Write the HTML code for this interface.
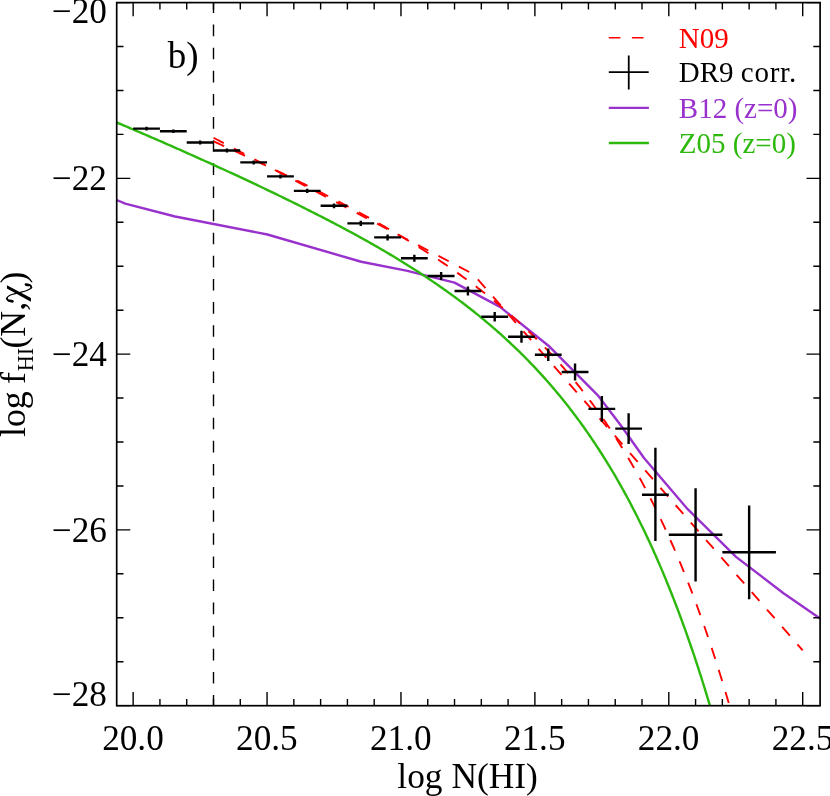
<!DOCTYPE html>
<html><head><meta charset="utf-8"><title>f_HI</title>
<style>
html,body{margin:0;padding:0;background:#fff;}
body{width:830px;height:796px;position:relative;overflow:hidden;font-family:"Liberation Serif",serif;}
</style></head><body>
<svg width="830" height="796" viewBox="0 0 830 796" style="position:absolute;left:0;top:0;will-change:transform">
<defs><clipPath id="c"><rect x="116.70" y="2.60" width="703.40" height="703.10"/></clipPath></defs>
<g clip-path="url(#c)" fill="none">
<path d="M213.50,1.5 V705.70" stroke="#000" stroke-width="1.4" stroke-dasharray="11.6 11.52"/>
<path d="M116.70,200.00 L125.20,203.70 L175.10,216.50 L267.40,234.50 L361.20,261.75 L406.30,270.60 L454.50,282.60 L500.00,306.90 L549.70,346.80 L597.60,395.10 L621.10,425.70 L644.00,458.00 L687.70,509.20 L736.00,556.90 L783.50,593.20 L820.10,618.50" stroke="#9932cc" stroke-width="2.4" stroke-linejoin="round"/>
<path d="M106.37,118.07 L107.97,118.75 L109.58,119.43 L111.19,120.11 L112.80,120.80 L114.40,121.48 L116.01,122.16 L117.62,122.84 L119.22,123.53 L120.83,124.21 L122.44,124.89 L124.04,125.58 L125.65,126.26 L127.26,126.95 L128.86,127.63 L130.47,128.32 L132.08,129.01 L133.69,129.69 L135.29,130.38 L136.90,131.07 L138.51,131.76 L140.11,132.45 L141.72,133.14 L143.33,133.82 L144.93,134.52 L146.54,135.21 L148.15,135.90 L149.75,136.59 L151.36,137.28 L152.97,137.98 L154.58,138.67 L156.18,139.36 L157.79,140.06 L159.40,140.75 L161.00,141.45 L162.61,142.16 L164.22,142.87 L165.82,143.57 L167.43,144.28 L169.04,144.99 L170.64,145.70 L172.25,146.41 L173.86,147.12 L175.47,147.83 L177.07,148.54 L178.68,149.25 L180.29,149.97 L181.89,150.68 L183.50,151.40 L185.11,152.11 L186.71,152.83 L188.32,153.54 L189.93,154.26 L191.53,154.98 L193.14,155.70 L194.75,156.42 L196.36,157.14 L197.96,157.86 L199.57,158.58 L201.18,159.30 L202.78,160.03 L204.39,160.75 L206.00,161.48 L207.60,162.20 L209.21,162.93 L210.82,163.66 L212.42,164.39 L214.03,165.12 L215.64,165.85 L217.25,166.58 L218.85,167.31 L220.46,168.04 L222.07,168.78 L223.67,169.51 L225.28,170.25 L226.89,170.99 L228.49,171.73 L230.10,172.47 L231.71,173.21 L233.31,173.95 L234.92,174.69 L236.53,175.43 L238.14,176.18 L239.74,176.93 L241.35,177.67 L242.96,178.42 L244.56,179.17 L246.17,179.92 L247.78,180.67 L249.38,181.43 L250.99,182.18 L252.60,182.94 L254.20,183.69 L255.81,184.45 L257.42,185.21 L259.03,185.97 L260.63,186.74 L262.24,187.50 L263.85,188.26 L265.45,189.03 L267.06,189.80 L268.67,190.57 L270.27,191.34 L271.88,192.11 L273.49,192.89 L275.09,193.66 L276.70,194.44 L278.31,195.22 L279.92,196.00 L281.52,196.78 L283.13,197.56 L284.74,198.35 L286.34,199.13 L287.95,199.92 L289.56,200.71 L291.16,201.50 L292.77,202.30 L294.38,203.09 L295.98,203.89 L297.59,204.69 L299.20,205.49 L300.81,206.29 L302.41,207.10 L304.02,207.91 L305.63,208.72 L307.23,209.53 L308.84,210.34 L310.45,211.15 L312.05,211.96 L313.66,212.77 L315.27,213.58 L316.87,214.40 L318.48,215.21 L320.09,216.03 L321.70,216.85 L323.30,217.68 L324.91,218.50 L326.52,219.33 L328.12,220.16 L329.73,220.99 L331.34,221.83 L332.94,222.67 L334.55,223.51 L336.16,224.35 L337.76,225.20 L339.37,226.04 L340.98,226.89 L342.59,227.75 L344.19,228.61 L345.80,229.46 L347.41,230.33 L349.01,231.19 L350.62,232.06 L352.23,232.93 L353.83,233.81 L355.44,234.68 L357.05,235.56 L358.65,236.45 L360.26,237.33 L361.87,238.22 L363.48,239.12 L365.08,240.01 L366.69,240.91 L368.30,241.82 L369.90,242.72 L371.51,243.63 L373.12,244.55 L374.72,245.46 L376.33,246.39 L377.94,247.31 L379.54,248.24 L381.15,249.17 L382.76,250.11 L384.37,251.05 L385.97,251.99 L387.58,252.94 L389.19,253.89 L390.79,254.85 L392.40,255.81 L394.01,256.78 L395.61,257.74 L397.22,258.72 L398.83,259.70 L400.43,260.68 L402.04,261.67 L403.65,262.66 L405.26,263.66 L406.86,264.66 L408.47,265.66 L410.08,266.67 L411.68,267.69 L413.29,268.71 L414.90,269.74 L416.50,270.77 L418.11,271.81 L419.72,272.85 L421.32,273.90 L422.93,274.95 L424.54,276.01 L426.15,277.07 L427.75,278.14 L429.36,279.22 L430.97,280.30 L432.57,281.38 L434.18,282.48 L435.79,283.58 L437.39,284.68 L439.00,285.80 L440.61,286.91 L442.21,288.04 L443.82,289.17 L445.43,290.31 L447.04,291.45 L448.64,292.60 L450.25,293.76 L451.86,294.93 L453.46,296.10 L455.07,297.28 L456.68,298.47 L458.28,299.66 L459.89,300.87 L461.50,302.07 L463.10,303.29 L464.71,304.52 L466.32,305.75 L467.92,306.99 L469.53,308.24 L471.14,309.50 L472.75,310.77 L474.35,312.04 L475.96,313.32 L477.57,314.62 L479.17,315.92 L480.78,317.23 L482.39,318.55 L483.99,319.88 L485.60,321.21 L487.21,322.56 L488.81,323.92 L490.42,325.28 L492.03,326.66 L493.64,328.05 L495.24,329.44 L496.85,330.85 L498.46,332.27 L500.06,333.70 L501.67,335.14 L503.28,336.59 L504.88,338.05 L506.49,339.52 L508.10,341.00 L509.70,342.50 L511.31,344.01 L512.92,345.53 L514.53,347.06 L516.13,348.60 L517.74,350.15 L519.35,351.72 L520.95,353.30 L522.56,354.90 L524.17,356.50 L525.77,358.12 L527.38,359.76 L528.99,361.40 L530.59,363.07 L532.20,364.74 L533.81,366.43 L535.42,368.13 L537.02,369.85 L538.63,371.58 L540.24,373.33 L541.84,375.09 L543.45,376.87 L545.06,378.67 L546.66,380.48 L548.27,382.30 L549.88,384.15 L551.48,386.01 L553.09,387.88 L554.70,389.77 L556.31,391.68 L557.91,393.61 L559.52,395.56 L561.13,397.52 L562.73,399.50 L564.34,401.50 L565.95,403.52 L567.55,405.56 L569.16,407.61 L570.77,409.69 L572.37,411.79 L573.98,413.90 L575.59,416.04 L577.20,418.20 L578.80,420.37 L580.41,422.57 L582.02,424.79 L583.62,427.04 L585.23,429.30 L586.84,431.59 L588.44,433.90 L590.05,436.23 L591.66,438.59 L593.26,440.97 L594.87,443.37 L596.48,445.80 L598.09,448.25 L599.69,450.73 L601.30,453.23 L602.91,455.76 L604.51,458.32 L606.12,460.90 L607.73,463.51 L609.33,466.14 L610.94,468.81 L612.55,471.50 L614.15,474.22 L615.76,476.96 L617.37,479.74 L618.98,482.55 L620.58,485.38 L622.19,488.25 L623.80,491.15 L625.40,494.08 L627.01,497.04 L628.62,500.03 L630.22,503.06 L631.83,506.12 L633.44,509.21 L635.04,512.33 L636.65,515.49 L638.26,518.69 L639.87,521.92 L641.47,525.19 L643.08,528.49 L644.69,531.83 L646.29,535.21 L647.90,538.62 L649.51,542.07 L651.11,545.57 L652.72,549.10 L654.33,552.67 L655.93,556.28 L657.54,559.93 L659.15,563.63 L660.76,567.37 L662.36,571.15 L663.97,574.97 L665.58,578.84 L667.18,582.75 L668.79,586.71 L670.40,590.71 L672.00,594.76 L673.61,598.86 L675.22,603.01 L676.82,607.20 L678.43,611.44 L680.04,615.74 L681.65,620.08 L683.25,624.48 L684.86,628.92 L686.47,633.42 L688.07,637.98 L689.68,642.58 L691.29,647.25 L692.89,651.97 L694.50,656.74 L696.11,661.57 L697.71,666.46 L699.32,671.41 L700.93,676.42 L702.54,681.49 L704.14,686.63 L705.75,691.82 L707.36,697.08 L708.96,702.40 L710.57,707.78 L712.18,713.23 L713.78,718.75 L715.39,724.34 L717.00,729.99 L718.60,735.72 L720.21,741.51 L721.82,747.38 L723.43,753.32 L725.03,759.33 L726.64,765.42 L728.25,771.58 L729.85,777.82 L731.46,784.14 L733.07,790.53 L734.67,797.01 L736.28,803.56 L737.89,810.20 L739.49,816.92 L741.10,823.73 L742.71,830.62 L744.32,837.60 L745.92,844.67 L747.53,851.82 L749.14,859.07" stroke="#2cb80c" stroke-width="2.4"/>
<path d="M213.50,141.31 L214.90,141.95 L216.31,142.59 L217.71,143.22 L219.12,143.86 L220.53,144.50 L221.93,145.14 L223.34,145.78 L224.74,146.42 L226.15,147.07 L227.56,147.71 L228.96,148.35 L230.37,149.00 L231.77,149.64 L233.18,150.29 L234.59,150.93 L235.99,151.58 L237.40,152.23 L238.80,152.88 L240.21,153.52 L241.62,154.17 L243.02,154.83 L244.43,155.48 L245.84,156.13 L247.24,156.78 L248.65,157.44 L250.05,158.09 L251.46,158.75 L252.87,159.40 L254.27,160.06 L255.68,160.72 L257.08,161.38 L258.49,162.04 L259.90,162.70 L261.30,163.36 L262.71,164.02 L264.11,164.69 L265.52,165.35 L266.93,166.02 L268.33,166.68 L269.74,167.35 L271.14,168.02 L272.55,168.69 L273.96,169.36 L275.36,170.03 L276.77,170.70 L278.17,171.38 L279.58,172.05 L280.99,172.73 L282.39,173.40 L283.80,174.08 L285.20,174.76 L286.61,175.44 L288.02,176.12 L289.42,176.81 L290.83,177.49 L292.24,178.17 L293.64,178.86 L295.05,179.55 L296.45,180.24 L297.86,180.93 L299.27,181.62 L300.67,182.31 L302.08,183.00 L303.48,183.70 L304.89,184.39 L306.30,185.09 L307.70,185.79 L309.11,186.49 L310.51,187.19 L311.92,187.90 L313.33,188.60 L314.73,189.31 L316.14,190.01 L317.54,190.72 L318.95,191.43 L320.36,192.15 L321.76,192.86 L323.17,193.57 L324.57,194.29 L325.98,195.01 L327.39,195.73 L328.79,196.45 L330.20,197.17 L331.60,197.90 L333.01,198.62 L334.42,199.35 L335.82,200.08 L337.23,200.81 L338.63,201.55 L340.04,202.28 L341.45,203.02 L342.85,203.76 L344.26,204.50 L345.67,205.24 L347.07,205.99 L348.48,206.73 L349.88,207.48 L351.29,208.23 L352.70,208.98 L354.10,209.74 L355.51,210.49 L356.91,211.25 L358.32,212.01 L359.73,212.78 L361.13,213.54 L362.54,214.31 L363.94,215.08 L365.35,215.85 L366.76,216.62 L368.16,217.40 L369.57,218.18 L370.97,218.96 L372.38,219.74 L373.79,220.53 L375.19,221.31 L376.60,222.10 L378.00,222.90 L379.41,223.69 L380.82,224.49 L382.22,225.29 L383.63,226.09 L385.03,226.90 L386.44,227.71 L387.85,228.52 L389.25,229.33 L390.66,230.15 L392.06,230.97 L393.47,231.79 L394.88,232.62 L396.28,233.44 L397.69,234.28 L399.10,235.11 L400.50,235.95 L401.91,236.79 L403.31,237.63 L404.72,238.48 L406.13,239.32 L407.53,240.18 L408.94,241.03 L410.34,241.89 L411.75,242.75 L413.16,243.62 L414.56,244.49 L415.97,245.36 L417.37,246.24 L418.78,247.12 L420.19,248.00 L421.59,248.89 L423.00,249.78 L424.40,250.67 L425.81,251.57 L427.22,252.47 L428.62,253.38 L430.03,254.29 L431.43,255.20 L432.84,256.12 L434.25,257.04 L435.65,257.97 L437.06,258.89 L438.46,259.83 L439.87,260.77 L441.28,261.71 L442.68,262.66 L444.09,263.61 L445.50,264.56 L446.90,265.52 L448.31,266.49 L449.71,267.46 L451.12,268.43 L452.53,269.41 L453.93,270.39 L455.34,271.38 L456.74,272.37 L458.15,273.37 L459.56,274.37 L460.96,275.38 L462.37,276.40 L463.77,277.41 L465.18,278.44 L466.59,279.47 L467.99,280.50 L469.40,281.54 L470.80,282.59 L472.21,283.64 L473.62,284.69 L475.02,285.76 L476.43,286.82 L477.83,287.90 L479.24,288.98 L480.65,290.06 L482.05,291.16 L483.46,292.25 L484.86,293.36 L486.27,294.47 L487.68,295.59 L489.08,296.71 L490.49,297.84 L491.89,298.98 L493.30,300.12 L494.71,301.27 L496.11,302.43 L497.52,303.59 L498.93,304.76 L500.33,305.94 L501.74,307.12 L503.14,308.32 L504.55,309.52 L505.96,310.72 L507.36,311.94 L508.77,313.16 L510.17,314.39 L511.58,315.63 L512.99,316.88 L514.39,318.13 L515.80,319.39 L517.20,320.66 L518.61,321.94 L520.02,323.23 L521.42,324.53 L522.83,325.83 L524.23,327.14 L525.64,328.46 L527.05,329.80 L528.45,331.14 L529.86,332.49 L531.26,333.84 L532.67,335.21 L534.08,336.59 L535.48,337.98 L536.89,339.37 L538.29,340.78 L539.70,342.20 L541.11,343.62 L542.51,345.06 L543.92,346.51 L545.32,347.96 L546.73,349.43 L548.14,350.91 L549.54,352.40 L550.95,353.90 L552.36,355.42 L553.76,356.94 L555.17,358.47 L556.57,360.02 L557.98,361.58 L559.39,363.15 L560.79,364.73 L562.20,366.32 L563.60,367.93 L565.01,369.55 L566.42,371.18 L567.82,372.82 L569.23,374.48 L570.63,376.15 L572.04,377.83 L573.45,379.53 L574.85,381.24 L576.26,382.96 L577.66,384.70 L579.07,386.45 L580.48,388.21 L581.88,389.99 L583.29,391.79 L584.69,393.60 L586.10,395.42 L587.51,397.26 L588.91,399.11 L590.32,400.98 L591.72,402.87 L593.13,404.77 L594.54,406.69 L595.94,408.62 L597.35,410.57 L598.76,412.54 L600.16,414.52 L601.57,416.52 L602.97,418.54 L604.38,420.57 L605.79,422.62 L607.19,424.69 L608.60,426.78 L610.00,428.89 L611.41,431.01 L612.82,433.15 L614.22,435.32 L615.63,437.50 L617.03,439.70 L618.44,441.92 L619.85,444.16 L621.25,446.42 L622.66,448.70 L624.06,451.00 L625.47,453.33 L626.88,455.67 L628.28,458.03 L629.69,460.42 L631.09,462.83 L632.50,465.26 L633.91,467.71 L635.31,470.19 L636.72,472.69 L638.12,475.21 L639.53,477.76 L640.94,480.32 L642.34,482.92 L643.75,485.54 L645.15,488.18 L646.56,490.85 L647.97,493.54 L649.37,496.26 L650.78,499.00 L652.19,501.77 L653.59,504.57 L655.00,507.40 L656.40,510.25 L657.81,513.13 L659.22,516.03 L660.62,518.97 L662.03,521.93 L663.43,524.92 L664.84,527.95 L666.25,531.00 L667.65,534.08 L669.06,537.19 L670.46,540.33 L671.87,543.51 L673.28,546.71 L674.68,549.95 L676.09,553.22 L677.49,556.52 L678.90,559.86 L680.31,563.22 L681.71,566.63 L683.12,570.06 L684.52,573.53 L685.93,577.04 L687.34,580.58 L688.74,584.16 L690.15,587.77 L691.55,591.43 L692.96,595.11 L694.37,598.84 L695.77,602.60 L697.18,606.41 L698.58,610.25 L699.99,614.13 L701.40,618.05 L702.80,622.01 L704.21,626.02 L705.62,630.06 L707.02,634.15 L708.43,638.28 L709.83,642.45 L711.24,646.67 L712.65,650.93 L714.05,655.23 L715.46,659.58 L716.86,663.98 L718.27,668.42 L719.68,672.91 L721.08,677.45 L722.49,682.03 L723.89,686.66 L725.30,691.35 L726.71,696.08 L728.11,700.86 L729.52,705.70 L730.92,710.58 L732.33,715.52 L733.74,720.51 L735.14,725.55 L736.55,730.65 L737.95,735.81 L739.36,741.01 L740.77,746.28 L742.17,751.60 L743.58,756.98 L744.98,762.42 L746.39,767.92 L747.80,773.47 L749.20,779.09 L750.61,784.77 L752.02,790.51 L753.42,796.31 L754.83,802.18 L756.23,808.11 L757.64,814.11 L759.05,820.17 L760.45,826.29 L761.86,832.49 L763.26,838.75 L764.67,845.09 L766.08,851.49 L767.48,857.96 L768.89,864.51 L770.29,871.12 L771.70,877.82 L773.11,884.58 L774.51,891.42 L775.92,898.34" stroke="#ff0000" stroke-width="1.9" stroke-dasharray="11.6 11.5"/>
<path d="M213.50,137.76 L473.28,274.15 L802.70,650.31" stroke="#ff0000" stroke-width="1.9" stroke-dasharray="11.6 11.5"/>
</g>
<g stroke="#000" stroke-width="2.4" fill="none">
<path d="M133.15,128.60 H159.93 M146.54,126.80 V130.40"/>
<path d="M159.93,131.20 H186.71 M173.32,129.40 V133.00"/>
<path d="M186.71,142.50 H213.50 M200.11,140.60 V144.40"/>
<path d="M213.50,150.50 H240.28 M226.89,148.60 V152.40"/>
<path d="M240.28,162.40 H267.06 M253.67,160.40 V164.40"/>
<path d="M267.06,176.40 H293.84 M280.45,174.40 V178.40"/>
<path d="M293.84,190.90 H320.62 M307.23,188.80 V193.00"/>
<path d="M320.62,205.80 H347.41 M334.01,203.40 V208.20"/>
<path d="M347.41,223.40 H374.19 M360.80,220.70 V226.10"/>
<path d="M374.19,237.40 H400.97 M387.58,234.40 V240.40"/>
<path d="M400.97,258.20 H427.75 M414.36,254.70 V261.70"/>
<path d="M427.75,276.00 H454.53 M441.14,272.00 V280.00"/>
<path d="M454.53,291.00 H481.32 M467.92,286.60 V295.40"/>
<path d="M481.32,316.70 H508.10 M494.71,311.90 V321.50"/>
<path d="M508.10,336.80 H534.88 M521.49,330.80 V342.80"/>
<path d="M534.88,354.70 H561.66 M548.27,348.40 V361.00"/>
<path d="M561.66,372.00 H588.44 M575.05,363.50 V380.50"/>
<path d="M588.44,408.90 H615.23 M601.84,396.10 V421.70"/>
<path d="M615.23,428.60 H642.01 M628.62,413.30 V443.90"/>
<path d="M642.01,494.70 H668.79 M655.40,447.70 V541.10"/>
<path d="M668.79,534.80 H722.35 M695.57,488.30 V581.40"/>
<path d="M722.35,552.20 H775.92 M749.14,505.50 V599.20"/>
</g>
<rect x="116.70" y="2.60" width="703.40" height="703.10" fill="none" stroke="#000" stroke-width="1.7"/>
<path d="M133.15,705.70 v-13.60 M133.15,2.60 v13.60 M159.93,705.70 v-6.80 M159.93,2.60 v6.80 M186.71,705.70 v-6.80 M186.71,2.60 v6.80 M213.50,705.70 v-6.80 M213.50,2.60 v6.80 M240.28,705.70 v-6.80 M240.28,2.60 v6.80 M267.06,705.70 v-13.60 M267.06,2.60 v13.60 M293.84,705.70 v-6.80 M293.84,2.60 v6.80 M320.62,705.70 v-6.80 M320.62,2.60 v6.80 M347.41,705.70 v-6.80 M347.41,2.60 v6.80 M374.19,705.70 v-6.80 M374.19,2.60 v6.80 M400.97,705.70 v-13.60 M400.97,2.60 v13.60 M427.75,705.70 v-6.80 M427.75,2.60 v6.80 M454.53,705.70 v-6.80 M454.53,2.60 v6.80 M481.32,705.70 v-6.80 M481.32,2.60 v6.80 M508.10,705.70 v-6.80 M508.10,2.60 v6.80 M534.88,705.70 v-13.60 M534.88,2.60 v13.60 M561.66,705.70 v-6.80 M561.66,2.60 v6.80 M588.44,705.70 v-6.80 M588.44,2.60 v6.80 M615.23,705.70 v-6.80 M615.23,2.60 v6.80 M642.01,705.70 v-6.80 M642.01,2.60 v6.80 M668.79,705.70 v-13.60 M668.79,2.60 v13.60 M695.57,705.70 v-6.80 M695.57,2.60 v6.80 M722.35,705.70 v-6.80 M722.35,2.60 v6.80 M749.14,705.70 v-6.80 M749.14,2.60 v6.80 M775.92,705.70 v-6.80 M775.92,2.60 v6.80 M802.70,705.70 v-13.60 M802.70,2.60 v13.60 M116.70,2.60 h13.60 M820.10,2.60 h-13.60 M116.70,46.54 h6.80 M820.10,46.54 h-6.80 M116.70,90.48 h6.80 M820.10,90.48 h-6.80 M116.70,134.42 h6.80 M820.10,134.42 h-6.80 M116.70,178.36 h13.60 M820.10,178.36 h-13.60 M116.70,222.30 h6.80 M820.10,222.30 h-6.80 M116.70,266.24 h6.80 M820.10,266.24 h-6.80 M116.70,310.18 h6.80 M820.10,310.18 h-6.80 M116.70,354.12 h13.60 M820.10,354.12 h-13.60 M116.70,398.06 h6.80 M820.10,398.06 h-6.80 M116.70,442.00 h6.80 M820.10,442.00 h-6.80 M116.70,485.94 h6.80 M820.10,485.94 h-6.80 M116.70,529.88 h13.60 M820.10,529.88 h-13.60 M116.70,573.82 h6.80 M820.10,573.82 h-6.80 M116.70,617.76 h6.80 M820.10,617.76 h-6.80 M116.70,661.70 h6.80 M820.10,661.70 h-6.80 M116.70,705.64 h13.60 M820.10,705.64 h-13.60" stroke="#000" stroke-width="1.4" fill="none"/>
<path d="M608.8,37.8 H643.5" stroke="#ff0000" stroke-width="1.6" stroke-dasharray="11.6 11.5"/>
<path d="M608.8,72.2 H648.7 M628.75,55.4 V89.5" stroke="#000" stroke-width="1.8" fill="none"/>
<path d="M608.8,107.9 H648.9" stroke="#9932cc" stroke-width="2.4"/>
<path d="M608.8,143 H648.9" stroke="#2cb80c" stroke-width="2.4"/>
<g font-family="Liberation Serif, serif"><text x="106.90" y="22.90" font-size="35.20" fill="#000" text-anchor="end" >−20</text>
<text x="106.90" y="189.90" font-size="35.20" fill="#000" text-anchor="end" >−22</text>
<text x="106.90" y="365.80" font-size="35.20" fill="#000" text-anchor="end" >−24</text>
<text x="106.90" y="541.70" font-size="35.20" fill="#000" text-anchor="end" >−26</text>
<text x="106.90" y="705.80" font-size="35.20" fill="#000" text-anchor="end" >−28</text>
<text x="132.95" y="750.00" font-size="35.20" fill="#000" text-anchor="middle" >20.0</text>
<text x="266.86" y="750.00" font-size="35.20" fill="#000" text-anchor="middle" >20.5</text>
<text x="400.77" y="750.00" font-size="35.20" fill="#000" text-anchor="middle" >21.0</text>
<text x="534.68" y="750.00" font-size="35.20" fill="#000" text-anchor="middle" >21.5</text>
<text x="668.59" y="750.00" font-size="35.20" fill="#000" text-anchor="middle" >22.0</text>
<text x="802.50" y="750.00" font-size="35.20" fill="#000" text-anchor="middle" >22.5</text>
<text x="467.60" y="787.90" font-size="35.40" fill="#000" text-anchor="middle" >log N(HI)</text>
<text x="167.70" y="68.00" font-size="37.00" fill="#000" text-anchor="start" >b)</text>
<text x="678.80" y="47.60" font-size="29.00" fill="#ff0000" text-anchor="start" >N09</text>
<text x="678.80" y="82.30" font-size="29.00" fill="#000" text-anchor="start" >DR9 <tspan letter-spacing="0.75">corr.</tspan></text>
<text x="678.80" y="117.60" font-size="29.00" fill="#9932cc" text-anchor="start" >B12 (z=0)</text>
<text x="678.80" y="152.60" font-size="29.00" fill="#2cb80c" text-anchor="start" >Z05 (z=0)</text>
<g transform="translate(24.9,437.0) rotate(-90)" font-size="35.80">
<text x="0" y="0">log</text>
<text x="52.9" y="0">f</text>
<text x="65.7" y="8.2" font-size="22.2">HI</text>
<text x="88.4" y="0">(N,</text>
<text x="153.4" y="0">)</text>
</g>
<path d="M6.91,285.24 L6.91,288.55 L30.94,301.81 L30.94,298.11 Z" fill="#000"/><path d="M12.71,301.54 C12.02,301.40 9.54,301.23 8.56,300.71 C7.59,300.18 6.62,299.31 6.85,298.39 C7.08,297.47 8.05,296.10 9.94,295.18 C11.84,294.26 15.42,293.64 18.23,292.86 C21.04,292.09 24.60,291.42 26.80,290.54 C28.99,289.67 30.87,288.53 31.38,287.61 C31.89,286.69 30.81,285.55 29.83,285.02 C28.86,284.48 26.24,284.51 25.52,284.41" fill="none" stroke="#000" stroke-width="1.15" stroke-linecap="round"/><path d="M12.27,301.15 C11.83,301.08 10.10,300.78 9.67,300.71" fill="none" stroke="#000" stroke-width="2.5" stroke-linecap="round"/><path d="M26.24,284.69 C26.66,284.76 28.31,285.05 28.73,285.13" fill="none" stroke="#000" stroke-width="2.5" stroke-linecap="round"/><path d="M12.71,301.54 C12.02,301.40 9.54,301.23 8.56,300.71 C7.59,300.18 7.14,298.77 6.85,298.39" fill="none" stroke="#000" stroke-width="1.9" stroke-linecap="round"/><path d="M31.38,287.61 C31.12,287.18 30.81,285.55 29.83,285.02 C28.86,284.48 26.24,284.51 25.52,284.41" fill="none" stroke="#000" stroke-width="1.9" stroke-linecap="round"/></g></svg>


</body></html>
